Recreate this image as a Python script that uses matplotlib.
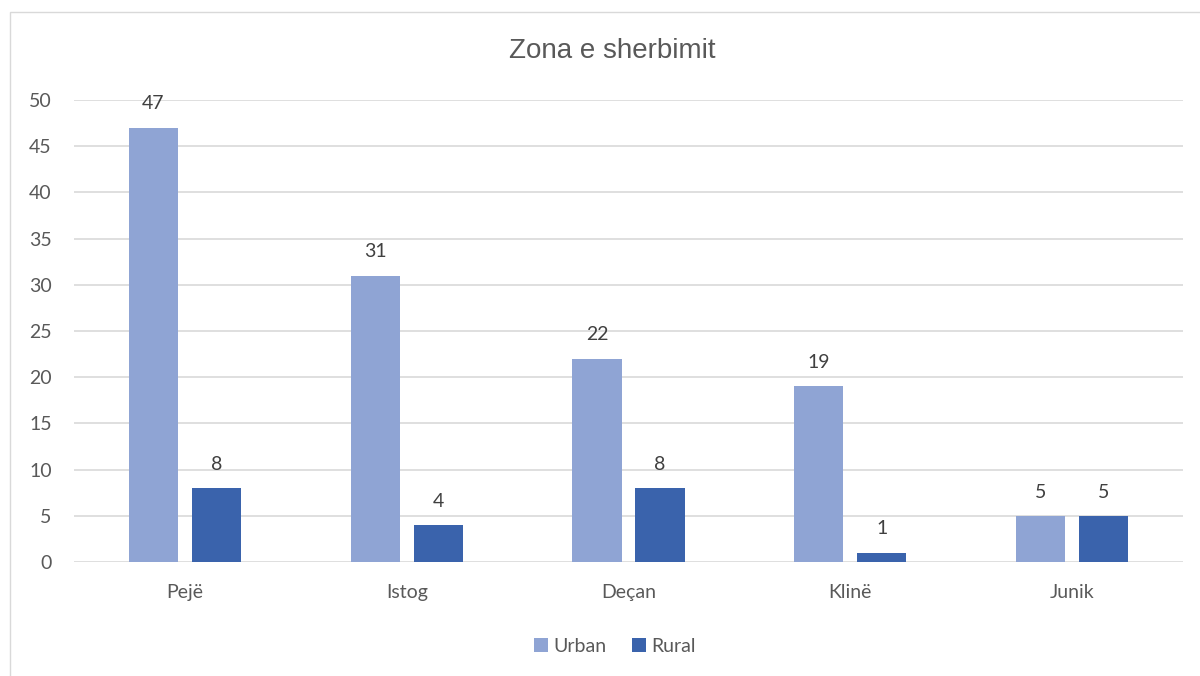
import matplotlib
matplotlib.use("Agg")
import matplotlib.pyplot as plt
from matplotlib.patches import Rectangle
import numpy as np

categories = ["Pejë", "Istog", "Deçan", "Klinë", "Junik"]
urban = [47, 31, 22, 19, 5]
rural = [8, 4, 8, 1, 5]
yticks = [0, 5, 10, 15, 20, 25, 30, 35, 40, 45, 50]

plt.rcParams['font.family'] = ['Lato', 'DejaVu Sans']

fig = plt.figure(figsize=(12, 6.76), dpi=100)
fig.patch.set_facecolor('white')
fig.patches.append(Rectangle((10/1200, -0.1), 1.2, 1 - 12/676 + 0.1, transform=fig.transFigure,
                             fill=False, edgecolor='#d9d9d9', linewidth=1.0))

ax = fig.add_axes([74/1200, 1 - 562/676, 1109/1200, 462/676])
x = np.arange(len(categories))
w = 0.221
gap = 0.063
c_urban = '#8fa4d4'
c_rural = '#3a63ac'
b1 = ax.bar(x - (w + gap)/2, urban, w, color=c_urban, label='Urban', zorder=3)
b2 = ax.bar(x + (w + gap)/2, rural, w, color=c_rural, label='Rural', zorder=3)

for bars, vals in ((b1, urban), (b2, rural)):
    for rect, v in zip(bars, vals):
        ax.annotate(str(v), (rect.get_x() + rect.get_width()/2, v), xytext=(0, 11),
                    textcoords='offset points', ha='center', va='bottom',
                    fontsize=14, color='#404040')

ax.set_xlim(-0.5, len(categories) - 0.5)
ax.set_ylim(0, 50)
ax.set_yticks(yticks)
ax.set_xticks(x)
ax.set_xticklabels(categories)
ax.yaxis.grid(True, color='#d9d9d9', linewidth=1.2, zorder=0)
ax.set_axisbelow(True)
for s in ax.spines.values():
    s.set_visible(False)
ax.tick_params(axis='both', length=0, labelsize=14, labelcolor='#595959')
ax.tick_params(axis='x', pad=16)
ax.tick_params(axis='y', pad=16)
for lbl in ax.get_yticklabels():
    lbl.set_horizontalalignment('right')

fig.text(612/1200, 1 - 51/676, "Zona e sherbimit", ha='center', va='center',
         fontsize=20, color='#595959', family=['Liberation Sans', 'DejaVu Sans'])

fig.legend(handles=[b1, b2], labels=['Urban', 'Rural'], loc='center',
           bbox_to_anchor=(615/1200, 1 - 646/676), ncol=2, frameon=False,
           fontsize=14, labelcolor='#595959', handlelength=0.7, handleheight=0.7,
           handletextpad=0.3, columnspacing=1.3)

fig.savefig('out.png', dpi=100, facecolor='white')
